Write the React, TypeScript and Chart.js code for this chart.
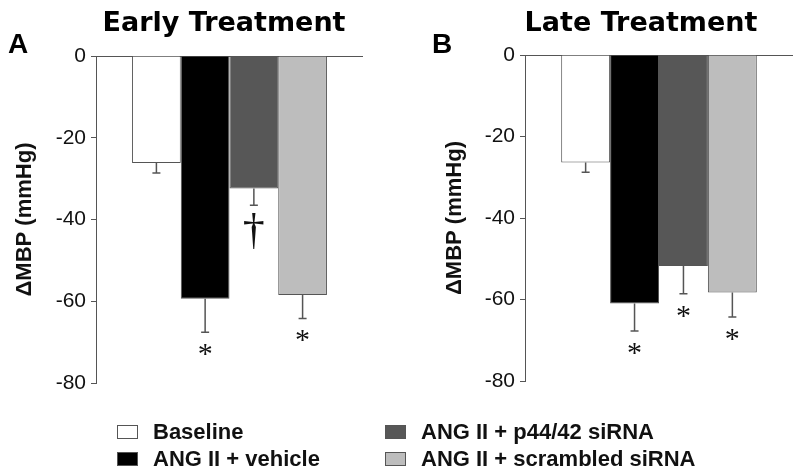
import React, { useEffect, useRef } from "react";
import { Chart, registerables } from "chart.js";

Chart.register(...registerables);

const categories = [
  "Baseline",
  "ANG II + vehicle",
  "ANG II + p44/42 siRNA",
  "ANG II + scrambled siRNA",
];
const barColors = ["#ffffff", "#000000", "#575757", "#bdbdbd"];

const earlyMeans = [-26.2, -59.4, -32.4, -58.5];
const earlyErrors = [2.4, 8.2, 4.1, 5.7];
const earlyMarks = ["", "*", "\u2020", "*"];

const lateMeans = [-26.4, -61.0, -51.8, -58.3];
const lateErrors = [2.4, 6.7, 6.8, 6.0];
const lateMarks = ["", "*", "*", "*"];

const yTicks = [0, -20, -40, -60, -80];
const yTitle = "\u0394MBP (mmHg)";

type PanelProps = {
  means: number[];
  errors: number[];
  marks: string[];
  title: string;
  letter: string;
  titleX: number;
  letterX: number;
  axisWidth: number;
  yTitlePad: number;
  pad: { top: number; bottom: number; right: number };
};

function Panel(p: PanelProps) {
  const ref = useRef<HTMLCanvasElement | null>(null);
  useEffect(() => {
    if (!ref.current) return;
    const decor = {
      id: "decor",
      afterDatasetsDraw(chart: any) {
        const ctx = chart.ctx;
        const ys = chart.scales.y;
        ctx.save();
        chart.data.datasets.forEach((ds: any, i: number) => {
          const bar = chart.getDatasetMeta(i).data[0];
          const v = ds.data[0];
          const e = p.errors[i];
          const yEnd = ys.getPixelForValue(v - e);
          ctx.strokeStyle = "#555";
          ctx.lineWidth = 1.5;
          ctx.beginPath();
          ctx.moveTo(bar.x, bar.y);
          ctx.lineTo(bar.x, yEnd);
          ctx.moveTo(bar.x - 4, yEnd);
          ctx.lineTo(bar.x + 4, yEnd);
          ctx.stroke();
          const m = p.marks[i];
          if (m) {
            ctx.fillStyle = "#111";
            ctx.font = m === "*" ? "30px 'Liberation Serif'" : "44px 'Liberation Serif'";
            ctx.textAlign = "center";
            ctx.textBaseline = "alphabetic";
            const mt = ctx.measureText(m);
            const top = yEnd + (m === "*" ? 12 : 8);
            ctx.fillText(m, bar.x, top + mt.actualBoundingBoxAscent);
          }
        });
        ctx.restore();
      },
      afterDraw(chart: any) {
        const ctx = chart.ctx;
        ctx.save();
        ctx.fillStyle = "#000";
        ctx.textBaseline = "alphabetic";
        ctx.font = "bold 27px 'DejaVu Sans'";
        ctx.textAlign = "center";
        ctx.fillText(p.title, p.titleX, 31);
        ctx.font = "bold 28px 'Liberation Sans'";
        ctx.textAlign = "left";
        ctx.fillText(p.letter, p.letterX, 53);
        ctx.restore();
      },
    };
    const chart = new Chart(ref.current, {
      type: "bar",
      data: {
        labels: [""],
        datasets: categories.map((c, i) => ({
          label: c,
          data: [p.means[i]],
          backgroundColor: barColors[i],
          borderColor: "#555",
          borderWidth: 1,
          barPercentage: 1,
          categoryPercentage: 0.73,
        })),
      },
      options: {
        animation: false,
        responsive: false,
        devicePixelRatio: 1,
        layout: { padding: { left: 0, top: p.pad.top, bottom: p.pad.bottom, right: p.pad.right } },
        plugins: { legend: { display: false }, tooltip: { enabled: false }, title: { display: false } },
        scales: {
          x: { display: false },
          y: {
            min: -80,
            max: 0,
            z: 1,
            afterFit(scale: any) {
              scale.width = p.axisWidth;
            },
            afterBuildTicks(scale: any) {
              scale.ticks = yTicks.map((v) => ({ value: v }));
            },
            ticks: {
              color: "#111",
              font: { family: "'Liberation Sans'", size: 21 },
              padding: 5,
            },
            grid: {
              drawOnChartArea: true,
              tickLength: 5,
              tickColor: "#555",
              color: (c: any) => (c.tick && c.tick.value === 0 ? "#555" : "rgba(0,0,0,0)"),
            },
            border: { display: true, color: "#555", width: 1 },
            title: {
              display: true,
              text: yTitle,
              color: "#111",
              font: { family: "'Liberation Sans'", size: 22, weight: "bold" },
              padding: { top: p.yTitlePad, bottom: 0 },
            },
          },
        },
      },
      plugins: [decor],
    });
    return () => chart.destroy();
  }, []);
  return <canvas ref={ref} width={400} height={474} style={{ width: 400, height: 474, display: "block" }} />;
}

function LegendItem({ i, left, top }: { i: number; left: number; top: number }) {
  return (
    <div style={{ position: "absolute", left, top, height: 27, display: "flex", alignItems: "center" }}>
      <div style={{ width: 19, height: 12, background: barColors[i], border: "1px solid #555" }} />
      <div
        style={{
          marginLeft: 15,
          font: "bold 22px 'Liberation Sans'",
          color: "#111",
          whiteSpace: "nowrap",
        }}
      >
        {categories[i]}
      </div>
    </div>
  );
}

export default function App() {
  return (
    <div style={{ position: "fixed", left: 0, top: 0, width: 800, height: 474, background: "#fff", overflow: "hidden" }}>
      <div style={{ position: "absolute", left: 0, top: 0 }}>
        <Panel
          means={earlyMeans}
          errors={earlyErrors}
          marks={earlyMarks}
          title="Early Treatment"
          letter="A"
          titleX={224}
          letterX={8}
          axisWidth={96}
          yTitlePad={12}
          pad={{ top: 56, bottom: 91, right: 37 }}
        />
      </div>
      <div style={{ position: "absolute", left: 400, top: 0 }}>
        <Panel
          means={lateMeans}
          errors={lateErrors}
          marks={lateMarks}
          title="Late Treatment"
          letter="B"
          titleX={241}
          letterX={32}
          axisWidth={125}
          yTitlePad={42}
          pad={{ top: 55, bottom: 93, right: 7 }}
        />
      </div>
      <LegendItem i={0} left={117} top={418} />
      <LegendItem i={1} left={117} top={445} />
      <LegendItem i={2} left={385} top={418} />
      <LegendItem i={3} left={385} top={445} />
    </div>
  );
}
